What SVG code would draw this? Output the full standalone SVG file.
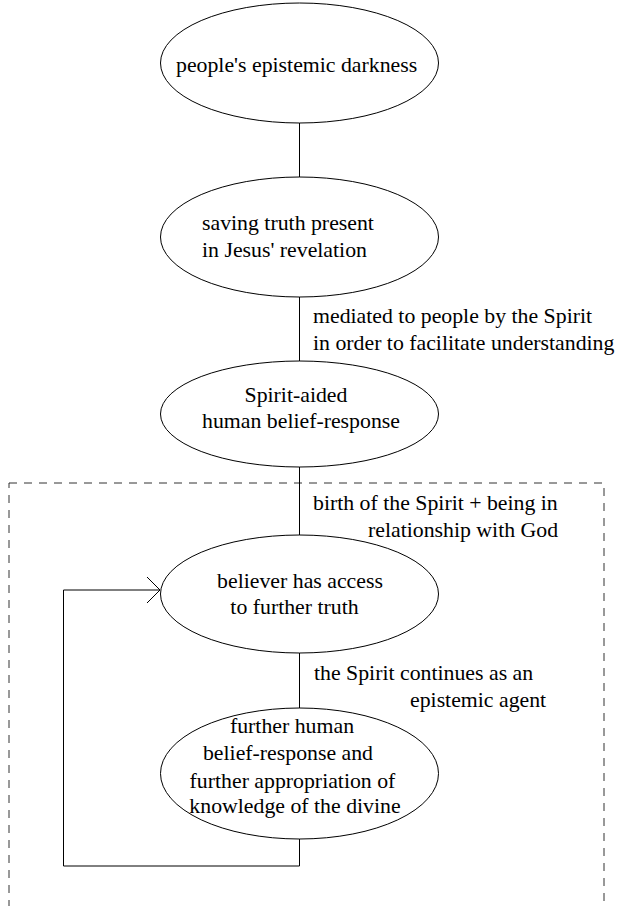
<svg xmlns="http://www.w3.org/2000/svg" width="617" height="906" viewBox="0 0 617 906">
<style>
.node ellipse{fill:#fff;stroke:#000;stroke-width:1}
.t{font-family:'Liberation Serif',serif;font-size:21.8px;fill:#000}
.c{text-anchor:middle}
.edge{fill:none;stroke:#000;stroke-width:1}
.frame{fill:none;stroke:#333;stroke-width:1;stroke-dasharray:8 7}
</style>
<defs>
<marker id="open" markerWidth="16" markerHeight="30" refX="14" refY="14" orient="auto" markerUnits="userSpaceOnUse">
<path d="M1,1 L14,14 L1,27" fill="none" stroke="#000" stroke-width="1"/>
</marker>
</defs>
<rect class="frame" x="9" y="483" width="595" height="450"/>
<g id="connectors">
<line class="edge" x1="299.5" y1="123" x2="299.5" y2="177"/>
<line class="edge" x1="299.5" y1="297" x2="299.5" y2="361"/>
<line class="edge" x1="299.5" y1="467" x2="299.5" y2="535"/>
<line class="edge" x1="299.5" y1="653" x2="299.5" y2="708"/>
<polyline class="edge" points="299.5,839 299.5,866 63.5,866 63.5,590 160,590" marker-end="url(#open)"/>
<g class="t" font-family="Liberation Serif, serif">
<text x="313" y="323">mediated to people by the Spirit</text>
<text x="313" y="350">in order to facilitate understanding</text>
<text x="313" y="510">birth of the Spirit + being in</text>
<text x="368" y="537">relationship with God</text>
<text x="314" y="680">the Spirit continues as an</text>
<text x="410" y="707">epistemic agent</text>
</g>
</g>
<g id="n1" class="node">
<ellipse cx="299.5" cy="63" rx="139" ry="60"/>
<text class="t" font-family="Liberation Serif, serif" x="176" y="72">people's epistemic darkness</text>
</g>
<g id="n2" class="node">
<ellipse cx="299.5" cy="237" rx="139" ry="60"/>
<g class="t" font-family="Liberation Serif, serif">
<text x="202" y="230">saving truth present</text>
<text x="202" y="257">in Jesus' revelation</text>
</g>
</g>
<g id="n3" class="node">
<ellipse cx="299.5" cy="414" rx="139" ry="53"/>
<g class="t c" font-family="Liberation Serif, serif">
<text x="296" y="402">Spirit-aided</text>
<text x="301" y="428">human belief-response</text>
</g>
</g>
<g id="n4" class="node">
<ellipse cx="299.5" cy="594" rx="139" ry="59"/>
<g class="t c" font-family="Liberation Serif, serif">
<text x="300" y="588">believer has access</text>
<text x="294.5" y="614">to further truth</text>
</g>
</g>
<g id="n5" class="node">
<ellipse cx="299.5" cy="773.5" rx="139" ry="65.5"/>
<g class="t c" font-family="Liberation Serif, serif">
<text x="292" y="733">further human</text>
<text x="288" y="760">belief-response and</text>
<text x="292.5" y="788">further appropriation of</text>
<text x="295" y="813">knowledge of the divine</text>
</g>
</g>
</svg>
